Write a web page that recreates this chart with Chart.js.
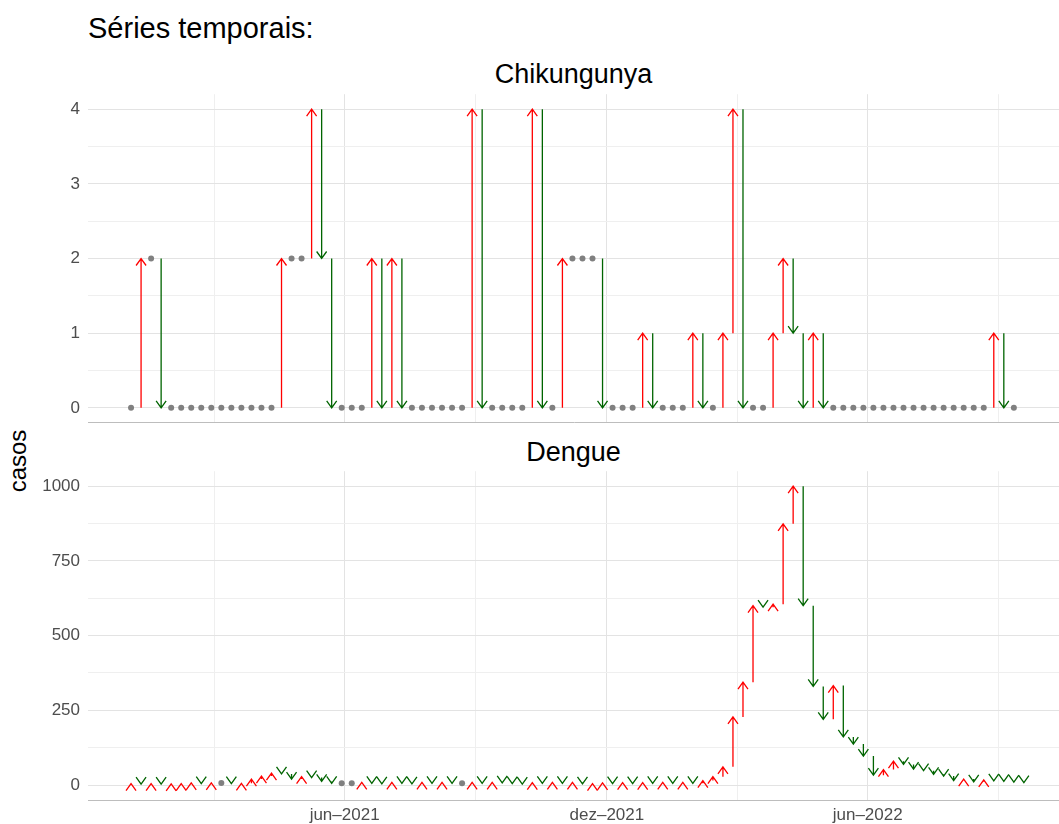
<!DOCTYPE html>
<html>
<head>
<meta charset="utf-8">
<script src="https://cdn.jsdelivr.net/npm/chart.js@4"></script>
<style>
  body { margin: 0; width: 1059px; height: 824px; background: #fff; position: relative; overflow: hidden; font-family: "Liberation Sans", Arial, sans-serif; }
  .txt { position: absolute; color: #000; white-space: nowrap; }
  .box { position: absolute; left: 0; width: 1064px; }
</style>
</head>
<body>
<div class="txt" style="left:88px; top:12px; font-size:29px;">Séries temporais:</div>
<div class="txt" style="left:88px; width:971px; text-align:center; top:59px; font-size:27px;">Chikungunya</div>
<div class="txt" style="left:88px; width:971px; text-align:center; top:437px; font-size:27px;">Dengue</div>
<div class="txt" style="left:-13px; top:447px; font-size:24px; transform:rotate(-90deg); transform-origin:center;">casos</div>
<div class="box" style="top:76px; height:365px;"><canvas id="chikChart"></canvas></div>
<div class="box" style="top:453px; height:371px;"><canvas id="dengueChart"></canvas></div>
<script>
// weekly case counts, first week starts 2021-01-03
const chikValues = [0, 2, 2, 0, 0, 0, 0, 0, 0, 0, 0, 0, 0, 0, 0,
  2, 2, 2, 4, 2, 0, 0, 0, 0, 2, 0, 2, 0, 0, 0, 0, 0, 0, 0,
  4, 0, 0, 0, 0, 0, 4, 0, 0, 2, 2, 2, 2, 0, 0, 0, 0, 1, 0, 0, 0, 0,
  1, 0, 0, 1, 4, 0, 0, 0, 1, 2, 1, 0, 1, 0,
  0, 0, 0, 0, 0, 0, 0, 0, 0, 0, 0, 0, 0, 0, 0, 0, 1, 0, 0];

const dengueValues = [5, 3, 5, 3, 4, 5, 7, 5, 7, 7,
  5, 6, 20, 30, 40, 37, 20, 28, 25, 12,
  6, 6, 6, 9, 6, 4, 9, 6, 4, 9,
  6, 9, 6, 6, 9, 6, 9, 7, 5, 3,
  8, 6, 9, 6, 9, 4, 5, 7, 5, 8,
  5, 8, 6, 9, 6, 9, 6, 15, 28, 61,
  228, 344, 600, 595, 605, 874, 1000, 600, 330, 220,
  333, 161, 137, 97, 33, 52, 80, 69, 53, 48,
  36, 30, 15, 20, 11, 17, 14, 12, 10, 8];

// x tick positions in weeks since 2021-01-03
const xTickWeeks = [21.29, 47.43, 73.43];
const xTickLabels = ['jun\u20132021', 'dez\u20132021', 'jun\u20132022'];
const xMinorWeeks = [8.29, 34.36, 60.43, 86.43];

const chikTicks = [0, 1, 2, 3, 4];
const dengueTicks = [0, 250, 500, 750, 1000];

const upColor = '#ff0000';
const downColor = '#006400';
const flatColor = '#808080';

function makePoints(values) {
  return values.map((v, i) => ({ x: i, y: v, prev: i === 0 ? 0 : values[i - 1] }));
}

// arrows from the previous week's value to the current one
const arrowPlugin = {
  id: 'arrows',
  afterDatasetsDraw(chart) {
    const ctx = chart.ctx;
    const xs = chart.scales.x, ys = chart.scales.y;
    const pts = chart.data.datasets[0].data;
    ctx.save();
    ctx.lineWidth = 1.3;
    pts.forEach(p => {
      if (p.y === p.prev) return;
      const px = xs.getPixelForValue(p.x);
      const y0 = ys.getPixelForValue(p.prev);
      const y1 = ys.getPixelForValue(p.y);
      const up = p.y > p.prev;
      ctx.strokeStyle = up ? upColor : downColor;
      ctx.beginPath();
      ctx.moveTo(px, y0);
      ctx.lineTo(px, y1);
      const d = up ? 7 : -7;
      ctx.moveTo(px - 5, y1 + d);
      ctx.lineTo(px, y1);
      ctx.lineTo(px + 5, y1 + d);
      ctx.stroke();
    });
    ctx.restore();
  }
};

function gridColor(ctx) {
  return ctx.tick && ctx.tick.major ? '#e3e3e3' : '#efefef';
}

function buildChart(id, values, majors, yMin, yMax, showX) {
  const pts = makePoints(values);
  const flat = pts.filter(p => p.y === p.prev);
  const step = majors[1] - majors[0];
  return new Chart(document.getElementById(id), {
    type: 'scatter',
    data: {
      datasets: [
        { data: pts, pointRadius: 0, pointHoverRadius: 0 },
        { data: flat, pointRadius: 3, backgroundColor: flatColor, borderWidth: 0 }
      ]
    },
    options: {
      responsive: true,
      maintainAspectRatio: false,
      animation: false,
      events: [],
      layout: { padding: 0 },
      plugins: { legend: { display: false }, tooltip: { enabled: false } },
      scales: {
        x: {
          type: 'linear',
          min: -4.29,
          max: 92.6,
          afterBuildTicks(axis) {
            const t = xTickWeeks.map(v => ({ value: v, major: true }))
              .concat(xMinorWeeks.map(v => ({ value: v, major: false })));
            axis.ticks = t.sort((a, b) => a.value - b.value);
          },
          afterFit(axis) { axis.height = showX ? 24 : 0; },
          ticks: {
            display: showX,
            autoSkip: false,
            maxRotation: 0,
            padding: 5,
            color: '#4d4d4d',
            font: { family: 'Liberation Sans', size: 17 },
            callback(v) {
              const k = xTickWeeks.indexOf(v);
              return k >= 0 ? xTickLabels[k] : '';
            }
          },
          grid: { color: gridColor, drawTicks: false },
          border: { display: true, color: '#bdbdbd' }
        },
        y: {
          min: yMin,
          max: yMax,
          afterBuildTicks(axis) {
            const t = [];
            majors.forEach(v => {
              t.push({ value: v, major: true });
              if (v + step / 2 < yMax) t.push({ value: v + step / 2, major: false });
            });
            if (majors[0] - step / 2 > yMin) t.unshift({ value: majors[0] - step / 2, major: false });
            axis.ticks = t;
          },
          afterFit(axis) { axis.width = 88; },
          ticks: {
            autoSkip: false,
            padding: 8,
            color: '#4d4d4d',
            font: { family: 'Liberation Sans', size: 17 },
            callback(v) { return majors.includes(v) ? String(v) : ''; }
          },
          grid: { color: gridColor, drawTicks: false },
          border: { display: false }
        }
      }
    },
    plugins: [arrowPlugin]
  });
}

buildChart('chikChart', chikValues, chikTicks, -0.2, 4.2, false);
buildChart('dengueChart', dengueValues, dengueTicks, -50, 1050, true);
</script>
</body>
</html>
